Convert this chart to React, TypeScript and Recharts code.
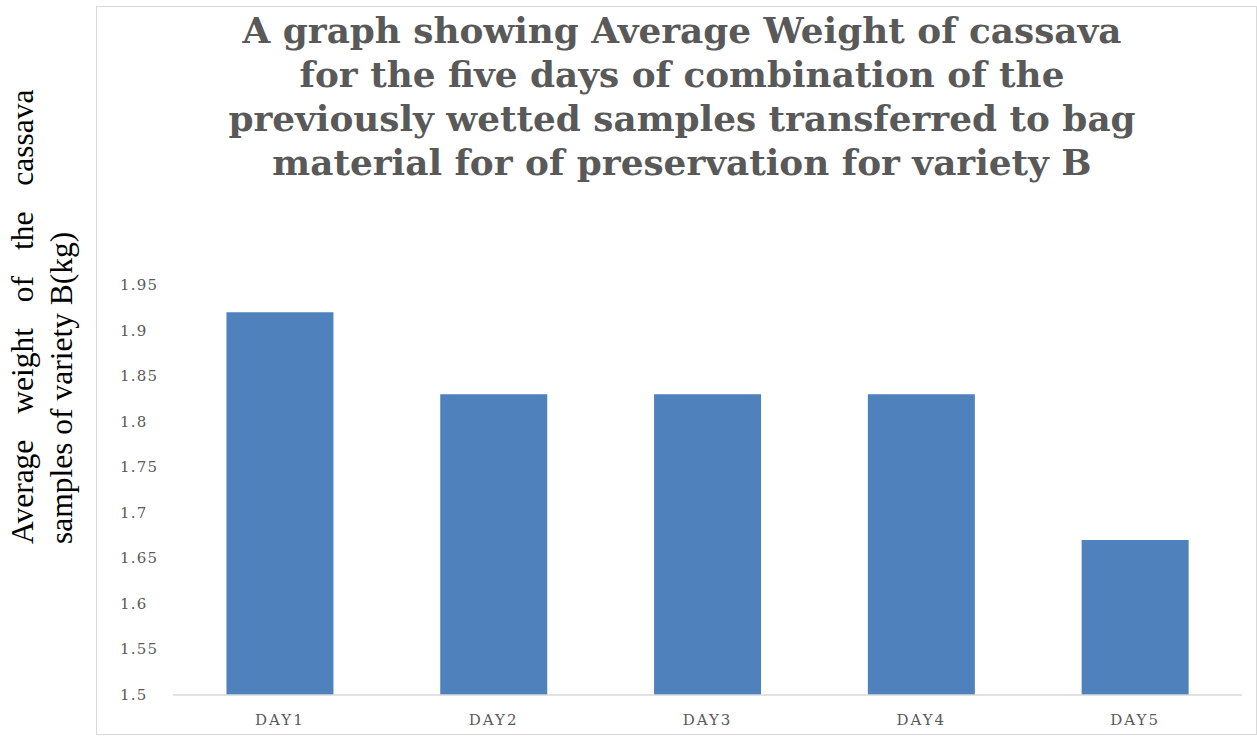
import React from 'react';
import { BarChart, Bar, XAxis, YAxis } from 'recharts';

const days = ['DAY1', 'DAY2', 'DAY3', 'DAY4', 'DAY5'];
const avgWeight = [1.92, 1.83, 1.83, 1.83, 1.67];
const yTicks = [1.5, 1.55, 1.6, 1.65, 1.7, 1.75, 1.8, 1.85, 1.9, 1.95];

const titleLines = [
  'A graph showing Average Weight of cassava',
  'for the five days of combination of the',
  'previously wetted samples transferred to bag',
  'material for of preservation for variety B',
];

const W = 1257;
const H = 744;
const GREY = '#595959';
const SERIF = '"DejaVu Serif", serif';

const data = days.map((day, i) => ({ day, weight: avgWeight[i] }));

// value labels sit left-aligned, like the spreadsheet export
const YTick = (props: any) => {
  const { y, payload } = props;
  return (
    <text x={120} y={y} dy={5} textAnchor="start" fill={GREY} fontSize={15} fontFamily={SERIF} letterSpacing={1.2}>
      {String(payload.value)}
    </text>
  );
};

const XTick = (props: any) => {
  const { x, y, payload } = props;
  return (
    <text x={x} y={y + 22} textAnchor="middle" fill={GREY} fontSize={15} fontFamily={SERIF} letterSpacing={2}>
      {payload.value}
    </text>
  );
};

export default function App() {
  return (
    <div style={{ position: 'absolute', left: 0, top: 0, width: W, height: H, background: '#fff' }}>
      {/* chart frame */}
      <div
        style={{
          position: 'absolute',
          left: 96,
          top: 6,
          width: W - 96,
          height: 729,
          border: '1px solid #d9d9d9',
          boxSizing: 'border-box',
        }}
      />
      <div style={{ position: 'absolute', left: 0, top: 0 }}>
        <BarChart width={W} height={H} data={data} margin={{ top: 285, right: 15, left: 0, bottom: 0 }} barCategoryGap="25%">
          <XAxis
            dataKey="day"
            height={49}
            axisLine={{ stroke: '#d9d9d9', strokeWidth: 1.5 }}
            tickLine={false}
            tick={<XTick />}
            interval={0}
          />
          <YAxis
            width={173}
            domain={[1.5, 1.95]}
            ticks={yTicks}
            allowDataOverflow
            axisLine={false}
            tickLine={false}
            tick={<YTick />}
            interval={0}
          />
          <Bar dataKey="weight" fill="#4f81bd" isAnimationActive={false} />
        </BarChart>
      </div>
      <svg width={W} height={H} style={{ position: 'absolute', left: 0, top: 0, pointerEvents: 'none' }}>
        {titleLines.map((line, i) => (
          <text
            key={i}
            x={682}
            y={43 + i * 44}
            textAnchor="middle"
            fill={GREY}
            fontSize={35.8}
            fontWeight="bold"
            fontFamily={SERIF}
          >
            {line}
          </text>
        ))}
        <g transform="rotate(-90)" fontFamily='"Liberation Serif", "Times New Roman", serif' fontSize={31.5} fill="#000">
          <text x={-544} y={33} wordSpacing={18}>
            Average weight of the cassava
          </text>
          <text x={-544} y={72}>
            samples of variety B(kg)
          </text>
        </g>
      </svg>
    </div>
  );
}
